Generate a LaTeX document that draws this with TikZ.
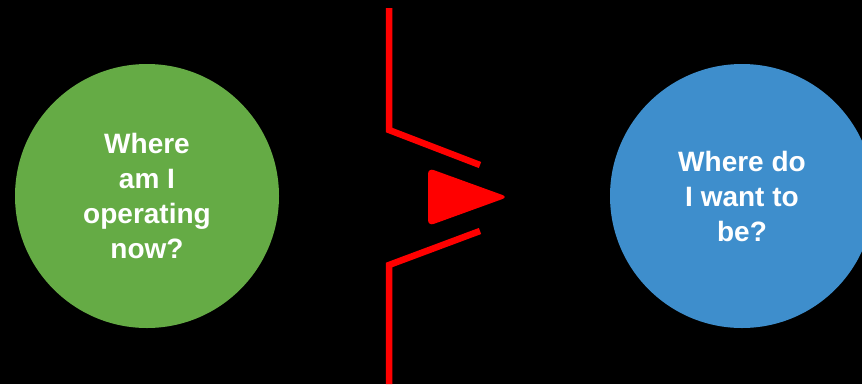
\documentclass[tikz,border=0pt]{standalone}
\usepackage{fontspec}
\setmainfont{Liberation Sans}
\usepackage{tikz}
\usetikzlibrary{positioning}
\definecolor{nowgreen}{RGB}{101,171,69}
\definecolor{goalblue}{RGB}{62,142,204}
\definecolor{barred}{RGB}{255,0,0}
\tikzset{
  state/.style = {circle, minimum size=264pt, inner sep=0pt, text=white,
                  align=center, font=\fontsize{28}{35}\selectfont\bfseries},
  wall/.style  = {draw=barred, line width=6.5pt, line join=miter},
  push/.style  = {fill=barred, rounded corners=6pt},
}
\begin{document}
\begin{tikzpicture}[x=1pt, y=-1pt]
    \fill[black] (0,0) rectangle (862,384);
    \useasboundingbox (0,0) rectangle (862,384);
    \node[state, fill=nowgreen] (now) at (147,196) {Where\\am I\\operating\\now?};
    \node[state, fill=goalblue] (goal) at (742,196) {Where do\\I want to\\be?};
    % barrier with a gap
    \coordinate (top) at (389,8);
    \coordinate (bottom) at (389,384);
    \draw[wall] (top) -- (389,130) -- (480,165);
    \draw[wall] (480,231) -- (389,265) -- (bottom);
    \fill[push] (428,168) -- (508,197) -- (428,226) -- cycle;
\end{tikzpicture}
\end{document}
